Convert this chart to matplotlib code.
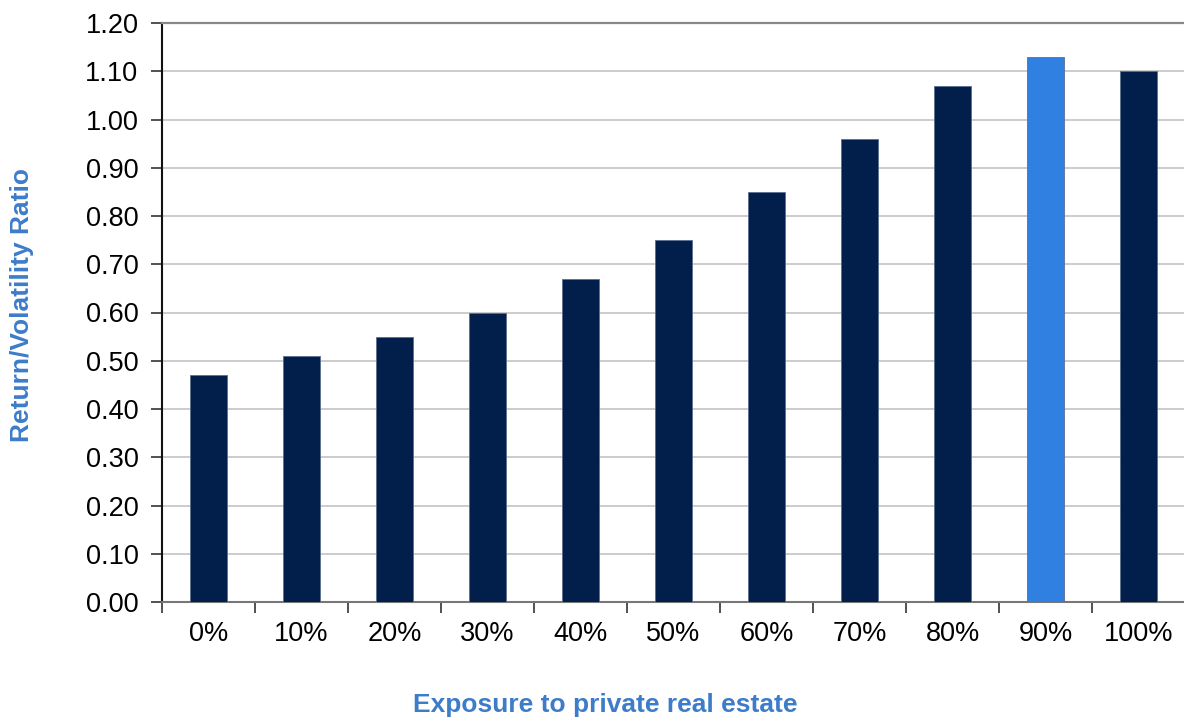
import matplotlib
matplotlib.use("Agg")
import matplotlib.pyplot as plt
import numpy as np

plt.rcParams['font.family'] = ['Liberation Sans', 'DejaVu Sans']

categories = ['0%', '10%', '20%', '30%', '40%', '50%', '60%', '70%', '80%', '90%', '100%']
ratios = [0.47, 0.51, 0.55, 0.60, 0.67, 0.75, 0.85, 0.96, 1.07, 1.13, 1.10]
highlight = '90%'
y_ticks = [0.0, 0.1, 0.2, 0.3, 0.4, 0.5, 0.6, 0.7, 0.8, 0.9, 1.0, 1.1, 1.2]

navy = '#021F4B'
bright = '#2F80E0'
label_blue = '#3D7CC9'

fig = plt.figure(figsize=(11.84, 7.2), dpi=100)
ax = fig.add_axes([162/1184, 1 - 602/720, 1 - 162/1184 + 0.001, (602 - 23)/720])

x = np.arange(len(categories))
colors = [bright if c == highlight else navy for c in categories]
ax.bar(x, ratios, width=0.4, color=colors, edgecolor='#5A6E90', linewidth=0.6, zorder=3)

ax.set_xlim(-0.5, len(categories) - 0.5)
ax.set_ylim(0, 1.2)
ax.set_yticks(y_ticks)
ax.set_yticklabels([f'{v:.2f}' for v in y_ticks], fontsize=19.5)
ax.yaxis.grid(True, color='#C4C4C4', linewidth=1.2, zorder=0)
ax.set_axisbelow(True)

ax.set_xticks(x)
ax.set_xticklabels(categories, fontsize=19.5)
ax.tick_params(axis='x', length=0, pad=14)
ax.set_xticks(np.arange(-0.5, len(categories) + 0.5, 1), minor=True)
ax.tick_params(axis='x', which='minor', length=8, width=1.2, color='#333333', direction='out')
ax.tick_params(axis='y', length=8, width=1.2, color='#333333', direction='out', pad=9)

ax.spines['right'].set_visible(False)
ax.spines['top'].set_color('#888888')
ax.spines['top'].set_linewidth(1.6)
ax.spines['left'].set_color('#111111')
ax.spines['left'].set_linewidth(1.5)
ax.spines['bottom'].set_color('#777777')
ax.spines['bottom'].set_linewidth(1.5)

fig.text(605/1184, 1 - 705/720, 'Exposure to private real estate', ha='center', va='center',
         fontsize=19, fontweight='bold', color=label_blue)
fig.text(22/1184, 1 - 305/720, 'Return/Volatility Ratio', ha='center', va='center', rotation=90,
         fontsize=19, fontweight='bold', color=label_blue)

fig.savefig('out.png', dpi=100)
